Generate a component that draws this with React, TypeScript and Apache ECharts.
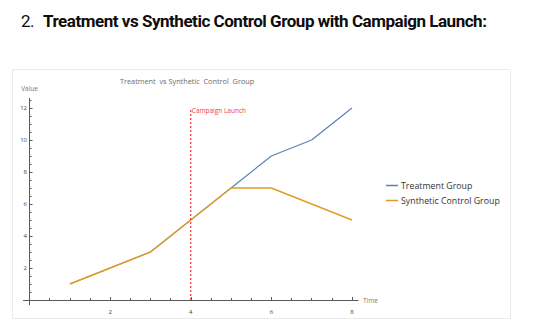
import React, { useEffect, useRef } from "react";
import * as echarts from "echarts";

const times = [1, 2, 3, 4, 5, 6, 7, 8];
const treatment = [1, 2, 3, 5, 7, 9, 10, 12];
const control = [1, 2, 3, 5, 7, 7, 6, 5];
const launchTime = 4;
const launchTop = 12;
const xMajor = [2, 4, 6, 8];
const yMajor = [2, 4, 6, 8, 10, 12];
const xMinor = [0.5, 1, 1.5, 2.5, 3, 3.5, 4.5, 5, 5.5, 6.5, 7, 7.5];
const yMinor = [0.5, 1, 1.5, 2.5, 3, 3.5, 4.5, 5, 5.5, 6.5, 7, 7.5, 8.5, 9, 9.5, 10.5, 11, 11.5, 12.5];

const heading = "Treatment vs Synthetic Control Group with Campaign Launch:";
const chartTitle = "Treatment  vs Synthetic  Control  Group";

const axisColor = "#5a5a5a";
const font = "'Open Sans', 'DejaVu Sans', sans-serif";

export default function App() {
  const ref = useRef<HTMLDivElement>(null);
  useEffect(() => {
    if (!ref.current) return;
    const chart = echarts.init(ref.current, null, { renderer: "svg" });
    const xRange = { min: -0.15, max: 8.15 };
    const yRange = { min: -0.3, max: 12.6 };
    chart.setOption({
      animation: false,
      textStyle: { fontFamily: font },
      title: {
        text: chartTitle,
        left: 120,
        top: 77,
        padding: 0,
        textStyle: { fontSize: 7.3, fontWeight: "normal", color: "#6b6b6b", fontFamily: font },
      },
      graphic: [
        {
          type: "rect",
          z: -10,
          shape: { x: 12.5, y: 69.5, width: 498, height: 249 },
          style: { fill: "#fff", stroke: "#ebebeb", lineWidth: 1 },
          silent: true,
        },
      ],
      legend: {
        orient: "vertical",
        left: 386,
        top: 181,
        padding: 0,
        itemWidth: 12,
        itemHeight: 1.5,
        itemGap: 6,
        icon: "rect",
        textStyle: { fontSize: 8.8, color: "#333", fontFamily: font, padding: [0, 0, 0, -2] },
        data: ["Treatment Group", "Synthetic Control Group"],
      },
      grid: { left: 23.5, top: 98.4, width: 334.5, height: 206.4, containLabel: false },
      xAxis: [
        {
          type: "value",
          ...xRange,
          name: "Time",
          nameLocation: "end",
          nameGap: 5,
          nameTextStyle: { fontSize: 6.5, color: "#777", verticalAlign: "middle" },
          axisLine: { onZero: true, lineStyle: { color: axisColor, width: 1 } },
          axisTick: { show: true, inside: true, length: 3, customValues: xMajor, lineStyle: { color: axisColor } },
          axisLabel: { customValues: xMajor, fontSize: 6, color: "#444", margin: 4 },
          splitLine: { show: false },
        },
        {
          type: "value",
          ...xRange,
          position: "bottom",
          axisLine: { show: false, onZero: true },
          axisTick: { show: true, inside: true, length: 2, customValues: xMinor, lineStyle: { color: axisColor } },
          axisLabel: { show: false },
          splitLine: { show: false },
        },
      ],
      yAxis: [
        {
          type: "value",
          ...yRange,
          name: "Value",
          nameLocation: "end",
          nameGap: 6,
          nameTextStyle: { fontSize: 6.5, color: "#777" },
          axisLine: { onZero: true, lineStyle: { color: axisColor, width: 1 } },
          axisTick: { show: true, inside: true, length: 3, customValues: yMajor, lineStyle: { color: axisColor } },
          axisLabel: { customValues: yMajor, fontSize: 6, color: "#444", margin: -3.5 },
          splitLine: { show: false },
        },
        {
          type: "value",
          ...yRange,
          position: "left",
          axisLine: { show: false, onZero: true },
          axisTick: { show: true, inside: true, length: 2, customValues: yMinor, lineStyle: { color: axisColor } },
          axisLabel: { show: false },
          splitLine: { show: false },
        },
      ],
      series: [
        {
          name: "Treatment Group",
          type: "line",
          showSymbol: false,
          color: "#5e81b5",
          lineStyle: { width: 1.2, color: "#5e81b5" },
          data: times.map((t, i) => [t, treatment[i]]),
          z: 2,
        },
        {
          name: "Synthetic Control Group",
          type: "line",
          showSymbol: false,
          color: "#e19c24",
          lineStyle: { width: 1.4, color: "#e19c24" },
          data: times.map((t, i) => [t, control[i]]),
          z: 3,
        },
        {
          name: "Campaign Launch",
          type: "line",
          symbol: "circle",
          symbolSize: 0.1,
          showSymbol: true,
          lineStyle: { width: 1.2, color: "#e8383d", type: [2, 2] },
          itemStyle: { color: "#e8383d" },
          data: [
            [launchTime, 0],
            {
              value: [launchTime, launchTop],
              label: {
                show: true,
                formatter: "Campaign Launch",
                position: "right",
                distance: 1,
                offset: [0, 2],
                fontSize: 6.5,
                color: "#f03c3c",
                fontFamily: font,
              },
            },
          ],
          z: 4,
        },
      ],
    });
    return () => chart.dispose();
  }, []);

  return (
    <div style={{ position: "fixed", left: 0, top: 0, width: 535, height: 326, background: "#fff" }}>
      <div
        style={{
          position: "absolute",
          left: 21,
          top: 9,
          fontFamily: "Roboto, 'Noto Sans', sans-serif",
          fontSize: 17,
          lineHeight: "24px",
          color: "#0d0d0d",
          whiteSpace: "nowrap",
          letterSpacing: "-0.47px",
        }}
      >
        <span style={{ fontWeight: 400, display: "inline-block", width: 22 }}>2.</span>
        <span style={{ fontWeight: 700 }}>{heading}</span>
      </div>
      <div ref={ref} style={{ position: "absolute", left: 0, top: 0, width: 535, height: 326 }} />
    </div>
  );
}
